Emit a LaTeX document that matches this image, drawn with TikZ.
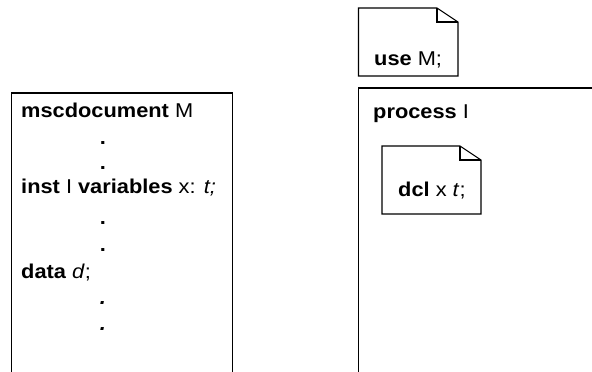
\documentclass[tikz,border=0pt]{standalone}
\usepackage{fontspec}
\setmainfont{Liberation Sans}[FakeStretch=1.09]
\tikzset{
  frame/.style={draw=black, line width=1.1pt},
  txt/.style={anchor=base west, inner sep=0pt, font=\fontsize{20}{24}\selectfont},
  dots/.style={anchor=base, inner sep=0pt, font=\fontsize{20}{24}\selectfont\bfseries},
}
\begin{document}
\begin{tikzpicture}[x=1pt,y=-1pt]
\useasboundingbox (0,0) rectangle (592,372);
% left document box (open at bottom)
\draw[frame] (11.5,380) -- (11.5,93) -- (232.5,93) -- (232.5,380);
\node[txt] (l1) at (21,117) {\textbf{mscdocument} M};
\node[dots] (d1) at (103,144) {.};
\node[dots] (d2) at (103,169) {.};
\node[txt] (l2) at (21,193) {\textbf{inst} I \textbf{variables} x: \textit{t;}};
\node[dots] (d3) at (103,224) {.};
\node[dots] (d4) at (103,251) {.};
\node[txt] (l3) at (21,278) {\textbf{data} \textit{d};};
\node[dots] (d5) at (103,304) {\itshape .};
\node[dots] (d6) at (103,330) {\itshape .};
% use note
\draw[frame] (358.5,76) -- (358.5,8) -- (437,8) -- (458,22) -- (458,76) -- cycle;
\draw[frame] (437,8) -- (437,22) -- (458,22);
\node[txt] (use) at (374,65) {\textbf{use} M;};
% process box (open at right and bottom)
\draw[frame] (358.5,380) -- (358.5,88) -- (600,88);
\node[txt] (proc) at (373,118) {\textbf{process} I};
% dcl note
\draw[frame] (382,214) -- (382,146) -- (460,146) -- (481,160) -- (481,214) -- cycle;
\draw[frame] (460,146) -- (460,160) -- (481,160);
\node[txt] (dcl) at (398,196) {\textbf{dcl} x \textit{t};};
\end{tikzpicture}
\end{document}
